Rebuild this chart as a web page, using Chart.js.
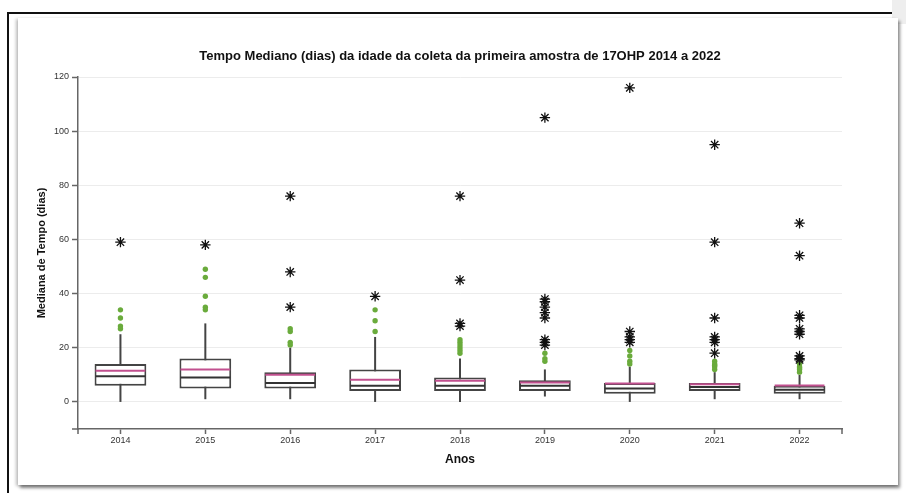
<!DOCTYPE html>
<html lang="pt">
<head>
<meta charset="utf-8">
<title>Tempo Mediano (dias) - 17OHP</title>
<script src="https://cdn.jsdelivr.net/npm/chart.js@4/dist/chart.umd.min.js"></script>
<style>
  html, body { margin: 0; padding: 0; background: #fff; }
  body { width: 906px; height: 493px; position: relative; overflow: hidden; font-family: "Liberation Sans", Arial, sans-serif; }
  .frame-top { position: absolute; left: 7px; top: 12px; width: 885px; height: 1.5px; background: #111; }
  .frame-left { position: absolute; left: 7px; top: 12px; width: 1.5px; height: 481px; background: #111; }
  .corner { position: absolute; left: 892px; top: 0; width: 14px; height: 24px; background: #eeeeee; }
  .card { position: absolute; left: 18px; top: 18px; width: 880px; height: 467px; background: #fff;
          box-shadow: 2px 3px 3px rgba(0,0,0,0.45), -2px 1px 3px rgba(0,0,0,0.25); }
  #wrap { position: absolute; left: 0; top: 0; width: 906px; height: 493px; }
</style>
</head>
<body>
<div class="frame-top"></div>
<div class="frame-left"></div>
<div class="corner"></div>
<div class="card"></div>
<div id="wrap"><canvas id="chart" width="906" height="493"></canvas></div>
<script>
// Anos e estatísticas das caixas
const years = ['2014', '2015', '2016', '2017', '2018', '2019', '2020', '2021', '2022'];
const q1 = [6, 5, 5, 4, 4, 4, 3, 4, 3];
const q3 = [14, 16, 11, 12, 9, 8, 7, 7, 6];
const medians = [9.5, 9, 7, 6, 6, 6, 5, 5.5, 4.5];
const means = [11.5, 12, 10, 8.2, 7.8, 7.2, 6.8, 6.5, 6.1];
const whiskerLow = [0, 1, 1, 0, 0, 2, 0, 1, 1];
const whiskerHigh = [25, 29, 20, 24, 16, 12, 13, 11, 10];

// Valores atípicos (círculos) e extremos (asteriscos) por ano
const outliers = [
  [34, 31, 28, 27],
  [49, 46, 39, 35, 34],
  [27, 26, 22, 21],
  [34, 30, 26],
  [23, 22, 21, 20, 19, 18],
  [18, 16, 15],
  [19, 17, 15, 14],
  [15, 14, 13.5, 13, 12],
  [14, 13, 12.5, 12, 11]
];
const extremes = [
  [59],
  [58],
  [76, 48, 35],
  [39],
  [76, 45, 29, 28],
  [105, 38, 37, 35, 33, 31, 23, 22, 21],
  [116, 26, 24, 23, 22],
  [95, 59, 31, 24, 23, 22, 18],
  [66, 54, 32, 31, 27, 26, 25, 17, 16, 15.5]
];

// Eixo Y
const yMin = -10, yMax = 120, yStep = 20;

const toPoints = (groups) => groups.flatMap((vals, i) => vals.map(v => ({ x: years[i], y: v })));

const boxColor = '#444444';
const medianColor = '#333333';
const meanColor = '#c2508f';
const axisColor = '#666666';
const fontFamily = '"Liberation Sans", Arial, sans-serif';

// Bigodes atrás das caixas; mediana e média por cima
const boxPlotLines = {
  id: 'boxPlotLines',
  beforeDatasetsDraw(chart) {
    const { ctx, scales: { y } } = chart;
    const meta = chart.getDatasetMeta(0);
    ctx.save();
    ctx.strokeStyle = boxColor;
    ctx.lineWidth = 2;
    meta.data.forEach((bar, i) => {
      ctx.beginPath();
      ctx.moveTo(bar.x, y.getPixelForValue(whiskerLow[i]));
      ctx.lineTo(bar.x, y.getPixelForValue(whiskerHigh[i]));
      ctx.stroke();
    });
    ctx.restore();
  },
  afterDatasetDraw(chart, args) {
    if (args.index !== 0) return;
    const { ctx, scales: { y } } = chart;
    ctx.save();
    ctx.lineWidth = 2;
    args.meta.data.forEach((bar, i) => {
      const half = bar.width / 2 - 1;
      const ym = y.getPixelForValue(medians[i]);
      ctx.strokeStyle = medianColor;
      ctx.beginPath();
      ctx.moveTo(bar.x - half, ym);
      ctx.lineTo(bar.x + half, ym);
      ctx.stroke();
      const ya = y.getPixelForValue(means[i]);
      ctx.strokeStyle = meanColor;
      ctx.beginPath();
      ctx.moveTo(bar.x - half, ya);
      ctx.lineTo(bar.x + half, ya);
      ctx.stroke();
    });
    ctx.restore();
  },
  afterDraw(chart) {
    // marcas externas nas extremidades dos eixos
    const { ctx, chartArea: { left, right, bottom } } = chart;
    ctx.save();
    ctx.strokeStyle = axisColor;
    ctx.lineWidth = 1.5;
    ctx.beginPath();
    ctx.moveTo(left - 6, bottom);
    ctx.lineTo(left, bottom);
    ctx.moveTo(left, bottom);
    ctx.lineTo(left, bottom + 5);
    ctx.moveTo(right, bottom);
    ctx.lineTo(right, bottom + 5);
    ctx.stroke();
    ctx.restore();
  }
};

new Chart(document.getElementById('chart'), {
  type: 'bar',
  data: {
    labels: years,
    datasets: [
      {
        label: 'Caixa',
        data: years.map((_, i) => [q1[i], q3[i]]),
        backgroundColor: '#ffffff',
        borderColor: boxColor,
        borderWidth: 2,
        borderSkipped: false,
        barPercentage: 0.61,
        categoryPercentage: 1,
        order: 3
      },
      {
        type: 'scatter',
        label: 'Atípicos',
        data: toPoints(outliers),
        pointStyle: 'circle',
        pointRadius: 2.7,
        backgroundColor: '#6aab3c',
        borderColor: '#6aab3c',
        borderWidth: 0,
        order: 2
      },
      {
        type: 'scatter',
        label: 'Extremos',
        data: toPoints(extremes),
        pointStyle: 'star',
        pointRadius: 5.2,
        backgroundColor: '#111',
        borderColor: '#111',
        borderWidth: 1.3,
        order: 1
      }
    ]
  },
  options: {
    responsive: false,
    animation: false,
    layout: { padding: { left: 35, right: 21, top: 0, bottom: 22 } },
    plugins: {
      legend: { display: false },
      tooltip: { enabled: false },
      title: {
        display: true,
        text: 'Tempo Mediano (dias) da idade da coleta da primeira amostra de 17OHP 2014 a 2022',
        color: '#111',
        font: { family: fontFamily, size: 13, weight: 'bold', lineHeight: 1.2 },
        padding: { top: 49, bottom: 12.4 }
      }
    },
    scales: {
      x: {
        type: 'category',
        offset: true,
        afterFit(scale) { scale.height = 42; },
        grid: { drawOnChartArea: false, offset: false, drawTicks: true, tickLength: 5, tickColor: axisColor, tickWidth: 1.5 },
        border: { color: axisColor, width: 1.5 },
        ticks: { color: '#333', padding: 1, font: { family: fontFamily, size: 9 } },
        title: {
          display: true,
          text: 'Anos',
          color: '#111',
          font: { family: fontFamily, size: 12, weight: 'bold', lineHeight: 1.2 },
          padding: { top: 0, bottom: 4 }
        }
      },
      y: {
        min: yMin,
        max: yMax,
        afterFit(scale) { scale.width = 43; },
        afterBuildTicks(scale) { scale.ticks = scale.ticks.filter(t => t.value >= 0); },
        grid: { color: '#ececec', lineWidth: 1, tickColor: axisColor, tickLength: 6, tickWidth: 1.5 },
        border: { color: axisColor, width: 1.5 },
        ticks: { stepSize: yStep, color: '#333', padding: 3, font: { family: fontFamily, size: 9 } },
        title: {
          display: true,
          text: 'Mediana de Tempo (dias)',
          color: '#111',
          font: { family: fontFamily, size: 11, weight: 'bold', lineHeight: 1.2 },
          padding: { top: 0, bottom: 0 }
        }
      },
      // margem direita reservada (sem marcas), para centrar o título
      yRight: {
        position: 'right',
        min: yMin,
        max: yMax,
        afterFit(scale) { scale.width = 43; },
        grid: { display: false, drawTicks: false },
        border: { display: false },
        ticks: { display: false }
      }
    }
  },
  plugins: [boxPlotLines]
});
</script>
</body>
</html>
